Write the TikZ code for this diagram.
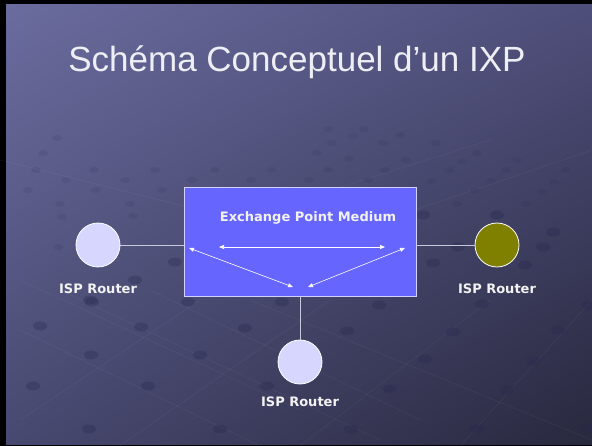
\documentclass[tikz,border=0pt]{standalone}
\usepackage{fontspec}
\setmainfont{Liberation Sans}
\newfontfamily\lblfont{DejaVu Sans}
\usetikzlibrary{arrows.meta,shapes.geometric,shadings}
\definecolor{boxfill}{RGB}{102,102,255}
\definecolor{boxline}{RGB}{210,210,255}
\definecolor{lav}{RGB}{214,214,255}
\definecolor{olivefill}{RGB}{128,128,0}
\definecolor{connline}{RGB}{200,200,220}
\definecolor{dotcol}{RGB}{40,40,80}
\definecolor{bgul}{RGB}{106,108,158}
\definecolor{bgur}{RGB}{78,78,122}
\definecolor{bgll}{RGB}{72,73,112}
\definecolor{bglr}{RGB}{40,40,62}
\definecolor{titlecol}{RGB}{238,238,245}
\definecolor{lblcol}{RGB}{242,242,242}
\begin{document}
\begin{tikzpicture}[x=1pt,y=-1pt,
  router/.style={circle,draw=white,line width=0.8pt,minimum size=44pt,inner sep=0pt},
  lbl/.style={font=\lblfont\bfseries\fontsize{13}{15}\selectfont,text=lblcol,inner sep=0pt},
  arr/.style={draw=white,line width=0.6pt,{Triangle[length=5pt,width=4pt]}-{Triangle[length=5pt,width=4pt]}},
  conn/.style={draw=connline,line width=0.9pt},
  bigdot/.style={fill=dotcol,opacity=0.32},
  smalldot/.style={fill=dotcol,opacity=0.12},
  gridline/.style={draw=white,opacity=0.06,line width=0.5pt}]
\useasboundingbox (0,0) rectangle (592,446);
\fill[black] (0,0) rectangle (592,446);
\shade[upper left=bgul,upper right=bgur,lower left=bgll,lower right=bglr]
  (6,5) rectangle (592,444);
% background texture lines
\draw[gridline] (20,280) -- (300,410);
\draw[gridline] (20,330) -- (260,446);
\draw[gridline] (60,290) -- (380,440);
\draw[gridline] (150,290) -- (420,420);
\draw[gridline] (250,300) -- (592,440);
\draw[gridline] (20,420) -- (200,300);
\draw[gridline] (120,446) -- (330,300);
\draw[gridline] (300,446) -- (490,300);
\draw[gridline] (460,446) -- (592,300);
\draw[gridline] (0,160) -- (200,210);
\draw[gridline] (300,200) -- (490,140);
\draw[gridline] (400,215) -- (592,150);
% background dots
\foreach \x/\y in {92/302,188/302,282/302,40/326,141/327,245/328,91/355,200/355,33/386,148/386,267/386,
  379/305,482/304,588/305,347/331,453/332,558/330,425/359,533/361,390/389,507/390,
  89/429,220/429,351/429,477/429,589/428,
  175/262,135/280,90/300,423/215,497/215,553/232,458/247,433/263,525/265,543/247}
  \fill[bigdot] (\x,\y) ellipse [x radius=7pt,y radius=4.5pt];
\foreach \x/\y in {449/170,506/170,566/170,368/180,432/181,491/181,554/182,349/190,413/191,475/191,542/192,
  457/204,526/204,406/160,462/161,517/160,477/153,436/143,400/135,383/143,364/129,328/129,353/136,
  332/143,317/153,349/159,385/170,328/170,309/180,287/190,226/190,251/180,272/170,215/170,192/180,
  162/190,130/204,60/204,96/190,125/180,155/170,94/170,66/180,28/190,36/170,43/153,57/138,62/217,133/216,58/247}
  \fill[smalldot] (\x,\y) ellipse [x radius=5pt,y radius=3pt];
% title
\node[anchor=base,font=\fontsize{35}{40}\selectfont,text=titlecol,inner sep=0pt] (title) at (297,72) {Schéma Conceptuel d’un IXP};
% exchange box
\node[draw=boxline,fill=boxfill,line width=0.8pt,minimum width=232pt,minimum height=109pt,inner sep=0pt] (box) at (300,241.5) {};
\node[lbl] (medium) at (308,218) {Exchange Point Medium};
\coordinate (hl) at (219,247);
\coordinate (hr) at (385,247);
\coordinate (dl) at (189,248);
\coordinate (dm1) at (293,287);
\coordinate (dr) at (405,248);
\coordinate (dm2) at (308,287);
\draw[arr] (hl) -- (hr);
\draw[arr] (dl) -- (dm1);
\draw[arr] (dr) -- (dm2);
% routers
\node[router,fill=lav] (rl) at (98,245) {};
\node[router,fill=olivefill] (rr) at (497,245) {};
\node[router,fill=lav] (rb) at (300,362) {};
\node[lbl] (ll) at (98,289) {ISP Router};
\node[lbl] (lr) at (497,289) {ISP Router};
\node[lbl] (lb) at (300,402) {ISP Router};
% connectors
\draw[conn] (rl.east) -- (rl.east -| box.west);
\draw[conn] (rr.west -| box.east) -- (rr.west);
\draw[conn] (box.south -| rb.north) -- (rb.north);
\end{tikzpicture}
\end{document}
